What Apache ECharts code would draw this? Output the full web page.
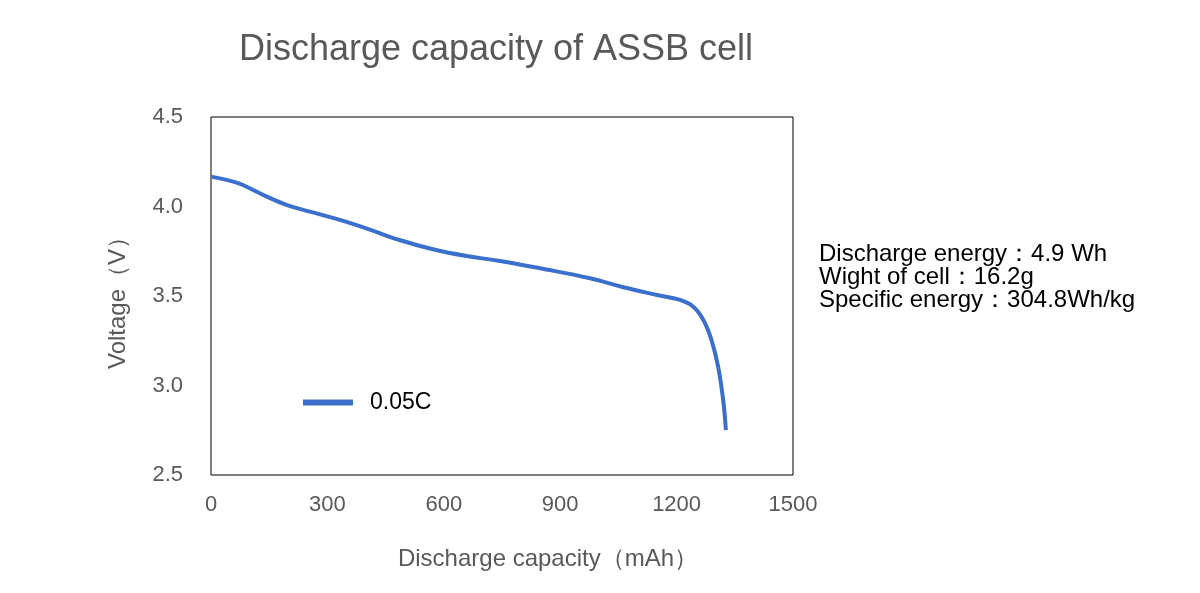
<!DOCTYPE html>
<html>
<head>
<meta charset="utf-8">
<script src="https://cdn.jsdelivr.net/npm/echarts@6/dist/echarts.min.js"></script>
<style>
  html, body { margin: 0; padding: 0; background: #fff; }
  #main { width: 1200px; height: 593px; }
</style>
</head>
<body>
<div id="main"></div>
<script>
// 放电曲线数据 (mAh, V)
var capacity = [0, 57, 82, 144, 196, 255, 332, 400, 486, 572, 659, 745, 848, 977, 1063, 1149, 1209, 1243, 1269, 1290, 1307, 1320, 1327];
var voltage = [4.167, 4.139, 4.12, 4.055, 4.008, 3.971, 3.925, 3.878, 3.813, 3.761, 3.723, 3.696, 3.655, 3.599, 3.549, 3.506, 3.478, 3.44, 3.366, 3.254, 3.105, 2.919, 2.751];
var xTicks = [0, 300, 600, 900, 1200, 1500];
var yTicks = [2.5, 3.0, 3.5, 4.0, 4.5];
var notes = ['Discharge energy：4.9 Wh', 'Wight of cell：16.2g', 'Specific energy：304.8Wh/kg'];

var font = '"Liberation Sans", Arial, sans-serif';
var grey = '#595959';

var chart = echarts.init(document.getElementById('main'));
var option = {
    textStyle: { fontFamily: font },
    title: {
        text: 'Discharge capacity of ASSB cell',
        left: 491,
        textAlign: 'center',
        top: 27,
        textStyle: { fontSize: 36, fontWeight: 'normal', color: grey, fontFamily: font }
    },
    grid: {
        left: 211,
        right: 407,
        top: 117,
        bottom: 118,
        show: true,
        borderColor: '#000',
        borderWidth: 1
    },
    legend: {
        left: 303,
        top: 391,
        padding: 0,
        icon: 'rect',
        itemWidth: 50,
        itemHeight: 6,
        textStyle: { fontSize: 23, color: '#000', padding: [0, 0, 0, 12], fontFamily: font },
        data: ['0.05C']
    },
    xAxis: {
        type: 'value',
        min: xTicks[0],
        max: xTicks[xTicks.length - 1],
        interval: 300,
        name: 'Discharge capacity（mAh）',
        nameLocation: 'middle',
        nameGap: 72,
        nameTextStyle: { fontSize: 24, color: grey, padding: [0, 0, 0, 92], fontFamily: font },
        axisLine: { show: false },
        axisTick: { show: false },
        splitLine: { show: false },
        axisLabel: {
            fontSize: 22, color: grey, margin: 19, fontFamily: font,
            formatter: function (v) { return String(v); }
        }
    },
    yAxis: {
        type: 'value',
        min: yTicks[0],
        max: yTicks[yTicks.length - 1],
        interval: 0.5,
        name: 'Voltage（V）',
        nameLocation: 'middle',
        nameGap: 81,
        nameTextStyle: { fontSize: 24, color: grey, padding: [0, 2, 0, 0], fontFamily: font },
        axisLine: { show: false },
        axisTick: { show: false },
        splitLine: { show: false },
        axisLabel: {
            fontSize: 22, color: grey, margin: 28, fontFamily: font,
            formatter: function (v) { return v.toFixed(1); }
        }
    },
    series: [{
        name: '0.05C',
        type: 'line',
        smooth: 0.4,
        symbol: 'none',
        lineStyle: { width: 4, color: '#3a6fcc' },
        itemStyle: { color: '#3a6fcc' },
        data: capacity.map(function (c, i) { return [c, voltage[i]]; })
    }],
    graphic: [{
        type: 'text',
        left: 819,
        top: 242,
        style: {
            text: notes.join('\n'),
            fontSize: 24,
            lineHeight: 23,
            fill: '#000',
            fontFamily: font
        }
    }]
};
chart.setOption(option);
</script>
</body>
</html>
